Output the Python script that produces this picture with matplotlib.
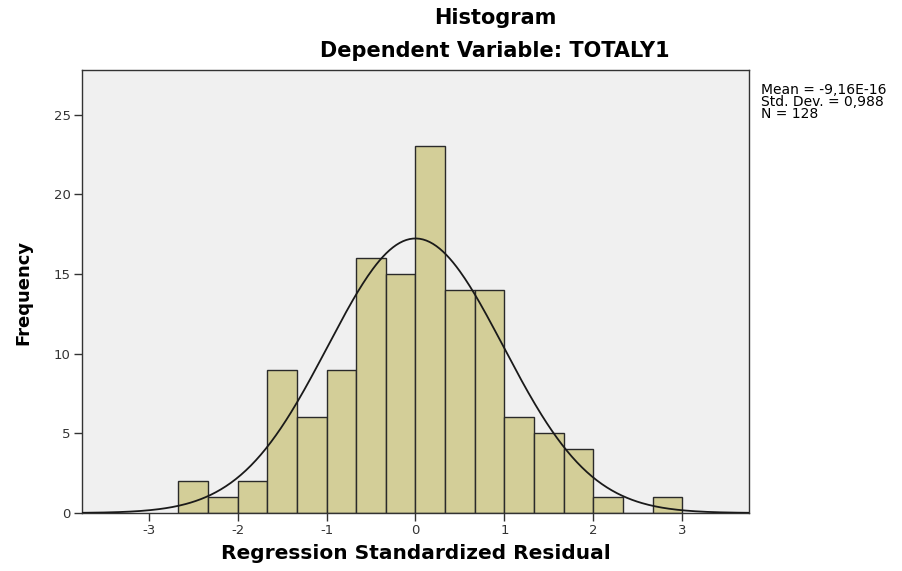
import numpy as np
import matplotlib
matplotlib.use("Agg")
import matplotlib.pyplot as plt

plt.rcParams['font.family'] = ['DejaVu Sans']
plt.rcParams['axes.unicode_minus'] = False

# Data
bin_left_edges = [-8/3, -7/3, -6/3, -5/3, -4/3, -3/3, -2/3, -1/3, 0, 1/3, 2/3, 1, 4/3, 5/3, 2, 7/3, 8/3]
bin_width = 1/3
counts = [2, 1, 2, 9, 6, 9, 16, 15, 23, 14, 14, 6, 5, 4, 1, 0, 1]
mean_val = -9.16e-16
std_val = 0.988
n_val = 128
x_ticks = [-3, -2, -1, 0, 1, 2, 3]
y_ticks = [0, 5, 10, 15, 20, 25]

fig = plt.figure(figsize=(9.03, 5.71), dpi=100)
ax = fig.add_axes([82/903, 1 - 513/571, (749 - 82)/903, (513 - 70)/571])
ax.set_facecolor('#F0F0F0')

ax.bar(bin_left_edges, counts, width=bin_width, align='edge',
       color='#D3CE98', edgecolor='#2a2a2a', linewidth=1.0, zorder=2)

xs = np.linspace(-3.75, 3.75, 400)
pdf = n_val * bin_width / (std_val * np.sqrt(2 * np.pi)) * np.exp(-0.5 * ((xs - mean_val) / std_val) ** 2)
ax.plot(xs, pdf, color='#1a1a1a', linewidth=1.3, zorder=3)

ax.set_xlim(-3.75, 3.75)
ax.set_ylim(0, 27.8)
ax.set_xticks(x_ticks)
ax.set_yticks(y_ticks)
ax.tick_params(axis='both', direction='out', length=6, width=1, color='#333333',
               labelsize=9.5, labelcolor='#333333', pad=2)
for sp in ax.spines.values():
    sp.set_color('#333333')
    sp.set_linewidth(1.0)

ax.set_xlabel('Regression Standardized Residual', fontsize=14.5, fontweight='bold', labelpad=5)
fig.text(23/903, 1 - 292/571, 'Frequency', rotation=90, ha='center', va='center',
         fontsize=13, fontweight='bold')

fig.text(495/903, 1 - 18/571, 'Histogram', ha='center', va='center', fontsize=15, fontweight='bold')
fig.text(495/903, 1 - 51/571, 'Dependent Variable: TOTALY1', ha='center', va='center', fontsize=15, fontweight='bold')

fig.text(761/903, 1 - 102/571, 'Mean = -9,16E-16\nStd. Dev. = 0,988\nN = 128',
         ha='left', va='center', fontsize=10, linespacing=0.85)

fig.savefig('out.png', dpi=100)
